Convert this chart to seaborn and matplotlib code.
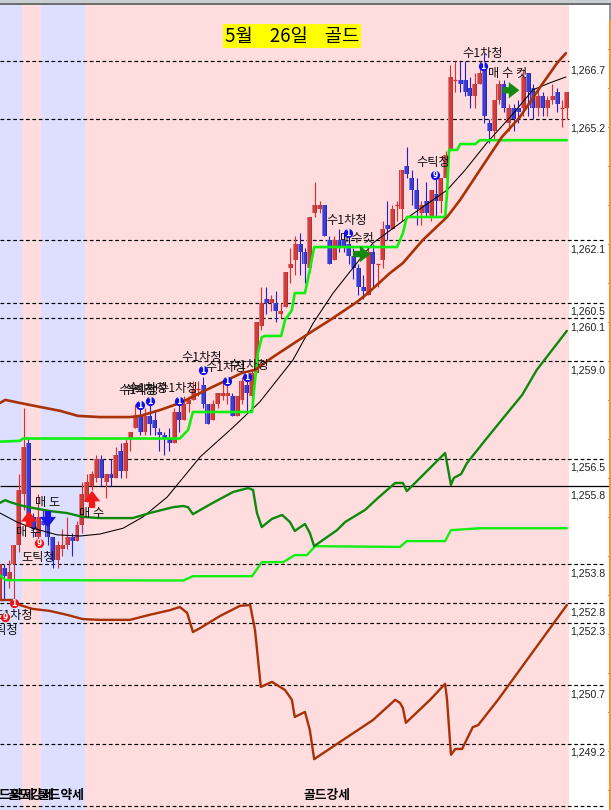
import numpy as np
import pandas as pd
import matplotlib
matplotlib.use("Agg")
import matplotlib.pyplot as plt
from matplotlib.patches import Rectangle
import seaborn as sns

opens = [1252.9,1253.7,1253.4,1253.8,1254.3,1255.6,1256.9,1255.0,1254.5,1254.9,
         1254.8,1254.5,1253.9,1254.2,1254.3,1254.5,1254.4,1254.8,1255.4,1255.8,
         1256.0,1256.5,1255.9,1256.1,1256.0,1256.7,1256.2,1257.0,1257.3,1257.6,
         1257.2,1257.6,1257.5,1257.2,1257.1,1257.0,1256.9,1257.7,1257.5,1257.9,
         1258.0,1258.3,1258.4,1257.9,1257.5,1257.9,1258.1,1258.1,1258.1,1257.6,
         1258.0,1258.4,1258.1,1258.7,1259.9,1260.6,1260.5,1260.5,1260.2,1260.4,
         1261.4,1261.6,1262.0,1261.8,1261.4,1262.8,1262.9,1263.0,1262.1,1261.6,
         1262.1,1262.1,1262.0,1261.7,1261.4,1260.9,1260.7,1261.8,1261.5,1261.6,
         1262.5,1262.4,1263.0,1262.9,1264.0,1263.7,1263.4,1262.8,1263.1,1262.7,
         1263.3,1263.1,1263.7,1264.4,1266.2,1266.2,1266.2,1266.0,1265.8,1266.1,
         1266.5,1265.1,1264.9,1265.7,1266.1,1265.1,1265.5,1265.5,1265.5,1266.4,
         1266.0,1265.5,1265.8,1265.5,1265.7,1265.9,1265.5,1265.5]
highs = [1253.9,1253.8,1253.9,1254.3,1256.1,1257.8,1257.0,1255.1,1255.6,1255.2,
         1255.0,1254.5,1254.4,1254.7,1255.0,1254.6,1254.9,1255.9,1256.1,1256.2,
         1256.6,1256.6,1256.1,1256.5,1256.8,1256.9,1257.0,1257.2,1257.9,1257.8,
         1257.8,1257.9,1257.7,1257.3,1257.2,1257.3,1257.8,1258.0,1258.1,1258.1,
         1258.5,1258.5,1258.6,1257.9,1258.0,1258.2,1258.5,1258.6,1258.2,1258.1,
         1258.6,1258.6,1258.8,1260.0,1260.9,1260.9,1260.7,1260.8,1260.5,1261.3,
         1261.9,1262.2,1262.3,1261.9,1262.7,1263.6,1263.1,1263.0,1262.2,1262.2,
         1262.4,1262.3,1262.1,1261.9,1261.5,1261.2,1261.9,1262.0,1261.5,1262.6,
         1263.1,1263.0,1263.1,1263.9,1264.5,1263.9,1263.7,1263.1,1263.6,1263.4,
         1263.8,1263.7,1264.4,1266.6,1266.7,1266.7,1266.7,1266.3,1266.4,1266.7,
         1266.9,1265.2,1265.7,1266.2,1266.2,1265.6,1265.6,1265.7,1266.5,1266.4,
         1266.1,1266.0,1265.9,1265.8,1266.1,1266.0,1265.7,1265.9]
lows = [1252.9,1252.9,1253.2,1252.9,1254.1,1255.2,1254.8,1254.5,1254.4,1254.8,
        1254.3,1253.7,1253.7,1254.0,1254.2,1254.0,1254.4,1254.6,1255.4,1255.7,
        1255.9,1255.8,1255.5,1255.8,1256.0,1256.0,1256.0,1256.7,1257.3,1257.1,
        1257.1,1257.1,1257.1,1256.7,1256.6,1256.7,1256.9,1257.2,1257.5,1257.7,
        1258.0,1258.1,1257.8,1257.4,1257.5,1257.8,1258.0,1257.9,1257.6,1257.6,
        1257.9,1257.7,1258.0,1258.7,1259.8,1260.2,1260.3,1260.0,1260.1,1260.4,
        1261.0,1261.2,1261.2,1261.0,1261.3,1262.7,1262.8,1262.2,1261.5,1261.6,
        1261.8,1261.8,1261.5,1261.1,1260.7,1260.6,1260.7,1260.9,1260.9,1261.4,
        1262.1,1262.4,1262.6,1262.6,1263.7,1263.0,1262.5,1262.5,1262.7,1262.6,
        1262.7,1262.8,1263.7,1264.4,1265.9,1265.9,1265.8,1265.5,1265.5,1266.1,
        1265.1,1264.6,1264.7,1265.6,1265.4,1264.9,1264.9,1265.1,1265.3,1265.3,
        1265.2,1265.3,1265.3,1265.3,1265.6,1265.4,1265.0,1265.2]
closes = [1253.8,1253.5,1253.6,1254.3,1255.7,1256.8,1254.8,1254.7,1255.0,1254.8,
          1254.5,1253.9,1254.3,1254.3,1254.5,1254.4,1254.8,1255.6,1255.9,1256.1,
          1256.5,1256.0,1256.1,1256.0,1256.6,1256.2,1256.9,1257.2,1257.6,1257.2,
          1257.6,1257.4,1257.3,1257.1,1257.0,1256.9,1257.7,1257.5,1257.9,1258.0,
          1258.3,1258.3,1257.9,1257.4,1257.9,1258.2,1258.2,1258.2,1257.6,1258.1,
          1258.5,1258.2,1258.7,1260.0,1260.5,1260.5,1260.6,1260.3,1260.3,1261.3,
          1261.5,1262.0,1261.8,1261.5,1262.7,1263.0,1263.0,1262.2,1261.5,1262.1,
          1261.9,1261.9,1261.7,1261.4,1260.9,1260.8,1261.8,1261.5,1261.5,1262.4,
          1262.4,1262.9,1263.0,1263.9,1263.8,1263.4,1262.9,1263.0,1262.8,1263.4,
          1263.1,1263.7,1264.3,1266.3,1266.2,1266.1,1265.9,1265.8,1266.1,1266.4,
          1265.3,1264.9,1265.7,1266.1,1265.5,1265.5,1265.2,1265.4,1266.3,1265.9,
          1265.5,1265.8,1265.5,1265.7,1265.8,1265.6,1265.5,1265.9]

brown_up_x = [0.1,1.2,6.3,12.5,16.2,20.8,26.9,29,33.1,37.2,43.4,50,52.7,56.4,64,68.2,73.7,76,80.5,83.2,87.3,92.3,95,99.1,103.6,107.3,111.5,115,116.8]
brown_up_y = [1257.93,1258.01,1257.88,1257.73,1257.6,1257.57,1257.57,1257.6,1257.75,1257.93,1258.31,1258.7,1258.78,1259.11,1259.73,1260.06,1260.52,1260.75,1261.26,1261.52,1262.11,1262.7,1263.14,1263.91,1264.75,1265.26,1266.03,1266.65,1266.9]

lime_up_x = [0.1,4.2,4.9,37.2,38.9,39.9,52.1,52.5,53.3,54.1,54.8,58.1,58.9,60.3,60.9,63,64,64.9,82,83.2,84,91.9,92.3,92.7,94.4,95,98.1,99.1,117]
lime_up_y = [1256.94,1256.96,1257.02,1257.02,1257.24,1257.7,1257.7,1258.26,1259.21,1259.62,1259.65,1259.65,1260.06,1260.31,1260.75,1260.75,1261.34,1261.93,1261.93,1262.29,1262.7,1262.7,1263.32,1264.42,1264.42,1264.57,1264.57,1264.67,1264.67]

lime_low_x = [0.1,1.2,37.9,39.9,52.1,54.1,58.5,60.9,63.4,65.1,82.6,84,91.9,93.1,99.1,117]
lime_low_y = [1253.52,1253.39,1253.38,1253.49,1253.49,1253.85,1253.85,1254.03,1254.03,1254.26,1254.24,1254.39,1254.39,1254.67,1254.72,1254.72]

green_x = [0.1,1.2,2.2,4.2,6.9,10.4,13.9,17.2,20.7,27.5,31,35.8,37.9,38.9,39.9,44,48.2,51.3,52.3,53.1,54.1,56.2,58.3,59.9,60.9,63,64,64.9,69.6,71.3,75.4,78,81.6,83.2,84,91.9,93.1,93.7,95.2,96.4,100.5,104.7,107.8,110.8,117]
green_y = [1255.37,1255.44,1255.39,1255.31,1255.24,1255.16,1255.11,1255.01,1254.98,1254.98,1255.11,1255.26,1255.29,1255.26,1255.08,1255.37,1255.65,1255.75,1255.7,1255.11,1254.75,1254.96,1255.06,1254.88,1254.65,1254.83,1254.6,1254.26,1254.67,1254.88,1255.19,1255.49,1255.88,1255.88,1255.67,1256.65,1255.83,1256.01,1256.11,1256.39,1257.03,1257.67,1258.14,1258.78,1259.78]

brown_low_x = [0.1,3,4.2,6.9,10.4,13.9,17.2,20.7,26.9,31,35.2,37.2,38.7,39.9,41.4,45.5,49.6,51.7,52.7,53.9,56.2,58.9,60.3,60.9,63,64,64.9,77,81.6,82.6,83.2,83.8,88.8,91.9,92.3,93.1,94,95.4,97.6,98.7,102.8,117]
brown_low_y = [1252.88,1252.88,1252.75,1252.65,1252.6,1252.5,1252.39,1252.37,1252.37,1252.5,1252.62,1252.7,1252.55,1252.06,1252.16,1252.47,1252.73,1252.75,1252.11,1250.65,1250.78,1250.57,1250.32,1249.88,1250.01,1249.55,1248.8,1249.8,1250.32,1250.24,1250.11,1249.73,1250.32,1250.73,1250.32,1248.91,1249.06,1249.06,1249.62,1249.67,1250.32,1252.75]

black_x = [0.1,3.6,6.9,11.9,16.6,20.7,25.5,29.6,34.6,41.4,48.2,53.7,60.5,64.7,68.8,73.7,77,84,92.3,96,100.5,105.3,110,113.5,116.8]
black_y = [1255.11,1254.88,1254.72,1254.55,1254.52,1254.57,1254.72,1255.01,1255.52,1256.55,1257.31,1257.96,1259.03,1259.98,1260.75,1261.52,1262.03,1262.67,1263.39,1263.9,1264.6,1265.26,1265.96,1266.14,1266.29]

level_prices = [1266.7,1265.2,1262.1,1260.5,1260.1,1259.0,1256.5,1255.8,1253.8,1252.8,1252.3,1250.7,1249.2]
band_edges = [0.1,4.66,8.6,17.65,117.4]
band_names = ["골드약세","골드강세","골드약세","골드강세"]

label_text = ["수1차청","매 수 컷","수틱청","수1차청","매수컷","수1차청","수1차청","수1차청","수1차청","수1차청","수틱청","수1차청","매 도","매 수","매 수","도틱청","도1차청","도틱청"]
label_i = [99.7,104.7,89.5,71.7,73.7,41.8,46.7,51.5,30.6,28.8,28.8,36.8,9.9,19,6,8,2.8,0.3]
label_p = [1266.90,1266.39,1264.11,1262.62,1262.16,1259.11,1258.85,1258.9,1258.31,1258.24,1258.24,1258.31,1255.37,1255.11,1254.6,1253.98,1252.47,1252.11]

dot_digit = ["1","1","1","1","1","1","1","1","9","9","1","9"]
dot_i = [99.7,71.9,42,46.9,51.1,31,29,37,89.8,8.2,3,1.2]
dot_p = [1266.57,1262.29,1258.78,1258.49,1258.6,1257.98,1257.88,1257.98,1263.78,1254.34,1252.8,1252.44]

sns.set_theme(style="white")
plt.rcParams["font.family"] = ["Noto Sans CJK KR", "DejaVu Sans"]

fig = plt.figure(figsize=(6.11, 8.10), dpi=100, facecolor="white")
ax = fig.add_axes([0, 0, 1, 1])
ax.set_xlim(0.124, 126.1)
ax.set_ylim(1247.495, 1268.264)
ax.axis("off")

PINK, BLUE = "#FFDCDE", "#DCDFFF"
for k, name in enumerate(band_names):
    ax.axvspan(band_edges[k], band_edges[k + 1], ymin=0, ymax=1 - 5 / 810,
               color=BLUE if "약" in name else PINK, lw=0, zorder=0)
band_label_i = [2.4, 6.5, 12.7, 67.6]
for name, i in zip(band_names, band_label_i):
    ax.text(i, 1247.87, name, ha="center", va="center", fontsize=9.2,
            fontweight="bold", color="black", zorder=6)

dash = (0, (3.2, 2.2))
for p in level_prices:
    if p == 1255.8:
        ax.hlines(p, 0.124, 126.1, color="black", lw=0.9, zorder=1)
    else:
        right = 117.4 if p > 1264 else 124.5
        ax.hlines(p, 0.124, right, color="black", lw=0.85, linestyles=dash, zorder=1)
    ax.annotate(f"{p:,.1f}", (117.6, p), xytext=(0, -6.6), textcoords="offset points",
                ha="left", va="center", fontsize=7.6, color="#222222",
                family="Liberation Sans", zorder=6)
ax.hlines(1247.6, 0.124, 124.5, color="black", lw=0.85, linestyles=dash, zorder=1)

# right-hand edge ticks at whole prices
for p in np.arange(1248, 1268):
    ax.hlines(p, 125.5, 126.1, color="#333333", lw=0.8, zorder=5)

px = 0.206
o, h, l, c = map(np.array, (opens, highs, lows, closes))
x = np.arange(len(o))
up = c >= o
wick = np.where(up, "#E62A2A", "#2020D8")
ax.vlines(x, l, h, colors=wick, lw=0.8, zorder=2)
bot, top = np.minimum(o, c), np.maximum(o, c)
flat = top - bot < 0.01
ax.hlines(o[flat], x[flat] - 0.45, x[flat] + 0.45, colors=wick[flat], lw=0.9, zorder=3)
b = ~flat
ax.bar(x[b], (top - bot)[b], bottom=bot[b], width=5.0 * px, lw=0, zorder=3,
       color=np.where(up[b], "#CE3E3E", "#3C3CD0"))
ax.bar(x[b] - 1.9 * px, (top - bot)[b], bottom=bot[b], width=1.0 * px, lw=0, zorder=3,
       color=np.where(up[b], "#E87C7C", "#7C7CEE"))
ax.bar(x[b] + 2.0 * px, (top - bot)[b], bottom=bot[b], width=1.0 * px, lw=0, zorder=3,
       color=np.where(up[b], "#B83030", "#2828B0"))

def line(xs, ys, color, lw):
    df = pd.DataFrame({"i": xs, "price": ys})
    sns.lineplot(data=df, x="i", y="price", ax=ax, color=color, lw=lw, sort=False,
                 estimator=None, legend=False, zorder=4)

line(black_x, black_y, "black", 0.75)
line(lime_low_x, lime_low_y, "#10F010", 1.7)
line(lime_up_x, lime_up_y, "#10F010", 1.9)
line(green_x, green_y, "#0B8A0B", 1.7)
line(brown_low_x, brown_low_y, "#A83206", 1.7)
line(brown_up_x, brown_up_y, "#A83206", 1.9)
ax.set_xlim(0.124, 126.1)
ax.set_ylim(1247.495, 1268.264)
ax.axis("off")

def arrow(a, b, color):
    ax.annotate("", xy=b, xytext=a, zorder=5,
                arrowprops=dict(arrowstyle="simple,head_width=0.62,head_length=0.4,tail_width=0.24",
                                color=color, lw=0, shrinkA=0, shrinkB=0, mutation_scale=19))

arrow((103.8, 1265.95), (107.2, 1265.95), "#128A12")
arrow((72.9, 1261.75), (76.5, 1261.75), "#128A12")
arrow((19.1, 1255.24), (19.1, 1255.68), "#F01818")
arrow((6.1, 1254.76), (6.1, 1255.16), "#F01818")
arrow((10, 1255.16), (10, 1254.74), "#1818E0")

for t, i, p in zip(label_text, label_i, label_p):
    ax.text(i, p, t, ha="center", va="center", fontsize=8.8, color="#111111", zorder=6)

for d, i, p in zip(dot_digit, dot_i, dot_p):
    red = (i < 10)
    ax.scatter([i], [p], s=44, color="#F01010" if red else "#1010E8", lw=0, zorder=7)
    ax.text(i, p - 0.01, d, ha="center", va="center", fontsize=5.5, fontweight="bold",
            color="white", family="DejaVu Sans", zorder=8)

ax.text(60.3, 1267.34, "5월    26일    골드", ha="center", va="center", fontsize=13.5,
        color="black", zorder=8,
        bbox=dict(boxstyle="square,pad=0.1", fc="#FFFF00", ec="none"))

# window frame: top strip and right rule
fig.add_artist(Rectangle((0, 1 - 3.5 / 810), 1, 3.5 / 810, transform=fig.transFigure, fc="#C9CED2", ec="none"))
fig.add_artist(Rectangle((0, 1 - 5 / 810), 1, 1.5 / 810, transform=fig.transFigure, fc="#6E6E6E", ec="none"))
fig.add_artist(Rectangle((1 - 1.8 / 611, 0), 1.8 / 611, 1 - 20 / 810, transform=fig.transFigure, fc="#F09A30", ec="none"))
fig.add_artist(Rectangle((1 - 1.8 / 611, 1 - 20 / 810), 1.8 / 611, 15 / 810, transform=fig.transFigure, fc="#9A9A9A", ec="none"))

fig.savefig("out.png", dpi=100)
